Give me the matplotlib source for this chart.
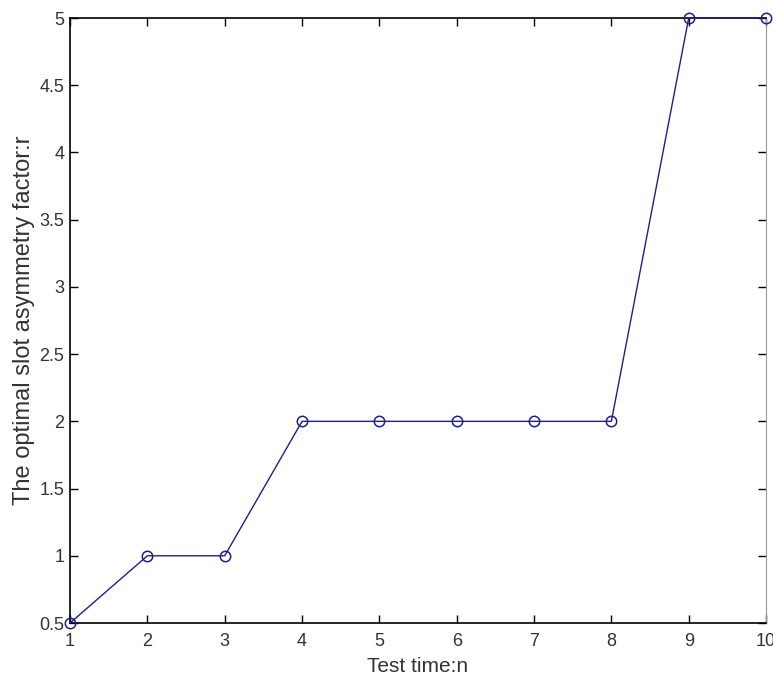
import matplotlib
matplotlib.use("Agg")
import matplotlib.pyplot as plt

test_time = [1, 2, 3, 4, 5, 6, 7, 8, 9, 10]
asym_factor = [0.5, 1, 1, 2, 2, 2, 2, 2, 5, 5]
xticks = [1, 2, 3, 4, 5, 6, 7, 8, 9, 10]
yticks = [0.5, 1, 1.5, 2, 2.5, 3, 3.5, 4, 4.5, 5]
ytick_labels = ["0.5", "1", "1.5", "2", "2.5", "3", "3.5", "4", "4.5", "5"]

plt.rcParams['font.family'] = ['Liberation Sans', 'DejaVu Sans']

fig = plt.figure(figsize=(7.73, 6.82), dpi=100)
ax = fig.add_axes([0.0906, 0.0865, 0.9004, 0.8871])
ax.plot(test_time, asym_factor, color='#1f1f8c', lw=1.0, marker='o',
        markersize=7.5, markerfacecolor='none', markeredgecolor='#1f1f8c', markeredgewidth=1.1,
        clip_on=False, zorder=3)
ax.set_xlim(1, 10)
ax.set_ylim(0.5, 5)
ax.set_xticks(xticks)
ax.set_yticks(yticks)
ax.set_yticklabels(ytick_labels)
ax.tick_params(direction='in', length=6, width=1, top=True, right=True,
               labelsize=13, colors='black', labelcolor='#333333')
ax.tick_params(axis='x', pad=7)
ax.tick_params(axis='y', pad=4)
for s in ['left', 'bottom', 'top']:
    ax.spines[s].set_color('black')
    ax.spines[s].set_linewidth(1.2)
ax.spines['right'].set_color('#999999')
ax.set_xlabel('Test time:n', fontsize=15, color='#333333', labelpad=5)
ax.set_ylabel('The optimal slot asymmetry factor:r', fontsize=17, color='#333333', labelpad=3)
fig.savefig('out.png', dpi=100)
